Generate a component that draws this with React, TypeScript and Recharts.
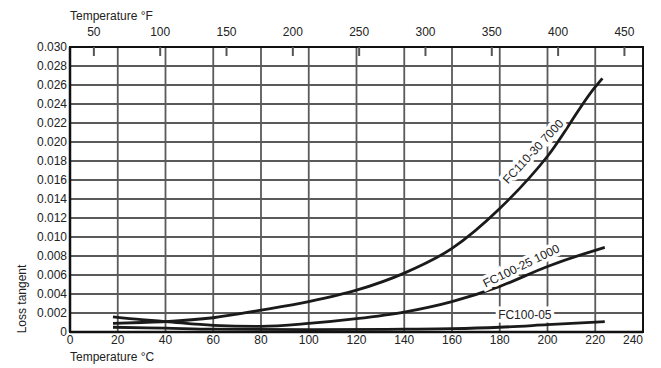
import React from 'react';
import {
  LineChart,
  Line,
  XAxis,
  YAxis,
  CartesianGrid,
  ReferenceArea,
  ReferenceDot,
} from 'recharts';

// degrees C on the bottom axis, degrees F on top
const celsiusTicks = [0, 20, 40, 60, 80, 100, 120, 140, 160, 180, 200, 220, 240];
const fahrenheitTicks = [50, 100, 150, 200, 250, 300, 350, 400, 450];
const lossTicks = [
  0, 0.002, 0.004, 0.006, 0.008, 0.01, 0.012, 0.014, 0.016, 0.018, 0.02, 0.022,
  0.024, 0.026, 0.028, 0.03,
];

const fc11030 = [
  { t: 18, v: 0.0009 },
  { t: 30, v: 0.001 },
  { t: 40, v: 0.0011 },
  { t: 60, v: 0.0015 },
  { t: 80, v: 0.0023 },
  { t: 100, v: 0.0032 },
  { t: 120, v: 0.0044 },
  { t: 140, v: 0.0062 },
  { t: 160, v: 0.0088 },
  { t: 180, v: 0.013 },
  { t: 200, v: 0.0185 },
  { t: 220, v: 0.0258 },
  { t: 223, v: 0.0267 },
];

const fc10025 = [
  { t: 18, v: 0.0016 },
  { t: 30, v: 0.0013 },
  { t: 40, v: 0.0011 },
  { t: 60, v: 0.0007 },
  { t: 80, v: 0.0006 },
  { t: 100, v: 0.0009 },
  { t: 120, v: 0.0014 },
  { t: 140, v: 0.0021 },
  { t: 160, v: 0.0032 },
  { t: 180, v: 0.0048 },
  { t: 200, v: 0.0069 },
  { t: 220, v: 0.0086 },
  { t: 224, v: 0.0089 },
];

const fc10005 = [
  { t: 18, v: 0.0005 },
  { t: 40, v: 0.0004 },
  { t: 60, v: 0.0003 },
  { t: 100, v: 0.00025 },
  { t: 140, v: 0.0003 },
  { t: 160, v: 0.00035 },
  { t: 180, v: 0.0005 },
  { t: 200, v: 0.00077 },
  { t: 224, v: 0.0011 },
];

const curveLabels = [
  { name: 'FC110-30 7000', t: 194, v: 0.019, angle: -47 },
  { name: 'FC100-25 1000', t: 189, v: 0.00695, angle: -26 },
  { name: 'FC100-05', t: 190.5, v: 0.00174, angle: 0 },
];

const FONT = '"Liberation Sans", Arial, sans-serif';
const INK = '#222';

const fmtLoss = (v: number) => (v === 0 ? '0' : v.toFixed(3));
const fToC = (f: number) => ((f - 32) * 5) / 9;

const BottomTick = (props: any) => {
  const { x, y, payload } = props;
  const last = payload.value === 240;
  return (
    <text
      x={x}
      y={y}
      dy={9}
      textAnchor={last ? 'end' : 'middle'}
      fontFamily={FONT}
      fontSize={12}
      fill={INK}
    >
      {payload.value}
    </text>
  );
};

// top °F axis: label above the frame, short mark pointing into the plot
const fahrenheitMark = (f: number) => (props: any) => {
  const vb = props.viewBox || {};
  const cx = vb.x + (vb.width || 0) / 2;
  const cy = vb.y + (vb.height || 0) / 2;
  return (
    <g>
      <line x1={cx} y1={cy} x2={cx} y2={cy + 9} stroke="#555" strokeWidth={2} />
      <text
        x={cx}
        y={cy - 11}
        textAnchor="middle"
        fontFamily={FONT}
        fontSize={12}
        fill={INK}
      >
        {f}
      </text>
    </g>
  );
};

const curveLabel = (name: string, angle: number) => (props: any) => {
  const vb = props.viewBox || {};
  const cx = vb.x + (vb.width || 0) / 2;
  const cy = vb.y + (vb.height || 0) / 2;
  return (
    <text
      x={cx}
      y={cy}
      dy={4}
      textAnchor="middle"
      fontFamily={FONT}
      fontSize={12}
      fill={INK}
      stroke="#fff"
      strokeWidth={7}
      paintOrder="stroke"
      transform={`rotate(${angle} ${cx} ${cy})`}
    >
      {name}
    </text>
  );
};

const App = () => {
  return (
    <div style={{ position: 'absolute', left: 0, top: 0 }}>
      <LineChart
        width={661}
        height={368}
        margin={{ top: 22, right: 18, bottom: 6, left: 30 }}
      >
        <CartesianGrid
          stroke="#5a5a5a"
          strokeWidth={1.8}
          horizontalValues={lossTicks}
          verticalValues={celsiusTicks}
        />
        <XAxis
          type="number"
          dataKey="t"
          domain={[0, 240]}
          ticks={celsiusTicks}
          interval={0}
          allowDataOverflow
          height={30}
          tickSize={0}
          tickMargin={3}
          tick={<BottomTick />}
          axisLine={{ stroke: '#111', strokeWidth: 2.5 }}
          label={{
            content: (p: any) => (
              <text
                x={p.viewBox.x}
                y={p.viewBox.y + p.viewBox.height - 1}
                fontFamily={FONT}
                fontSize={12}
                fill={INK}
              >
                Temperature °C
              </text>
            ),
          }}
        />
        <XAxis
          xAxisId="f"
          orientation="top"
          type="number"
          domain={[32, 464]}
          ticks={fahrenheitTicks}
          allowDataOverflow
          height={25}
          tick={false}
          tickLine={false}
          axisLine={false}
          label={{
            content: (p: any) => (
              <text
                x={p.viewBox.x}
                y={p.viewBox.y - 2}
                fontFamily={FONT}
                fontSize={12}
                fill={INK}
              >
                Temperature °F
              </text>
            ),
          }}
        />
        <YAxis
          type="number"
          domain={[0, 0.03]}
          ticks={lossTicks}
          interval={0}
          allowDataOverflow
          width={40}
          tickSize={0}
          tickMargin={3}
          tickFormatter={fmtLoss}
          tick={{ fontFamily: FONT, fontSize: 12, fill: INK }}
          axisLine={{ stroke: '#111', strokeWidth: 2.5 }}
          label={{
            content: (p: any) => {
              const x = p.viewBox.x - 4;
              const y = p.viewBox.y + p.viewBox.height - 33;
              return (
                <text
                  x={x}
                  y={y}
                  textAnchor="middle"
                  fontFamily={FONT}
                  fontSize={12}
                  fill={INK}
                  transform={`rotate(-90 ${x} ${y})`}
                >
                  Loss tangent
                </text>
              );
            },
          }}
        />
        <ReferenceArea
          x1={0}
          x2={240}
          y1={0}
          y2={0.03}
          fill="none"
          stroke="#111"
          strokeWidth={2}
        />
        {fahrenheitTicks.map((f) => (
          <ReferenceDot
            key={f}
            x={fToC(f)}
            y={0.03}
            r={0}
            fill="none"
            stroke="none"
            label={{ content: fahrenheitMark(f) }}
          />
        ))}
        <Line
          data={fc11030}
          dataKey="v"
          type="monotone"
          stroke="#1a1a1a"
          strokeWidth={2.8}
          dot={false}
          isAnimationActive={false}
        />
        <Line
          data={fc10025}
          dataKey="v"
          type="monotone"
          stroke="#1a1a1a"
          strokeWidth={2.8}
          dot={false}
          isAnimationActive={false}
        />
        <Line
          data={fc10005}
          dataKey="v"
          type="monotone"
          stroke="#1a1a1a"
          strokeWidth={2.8}
          dot={false}
          isAnimationActive={false}
        />
        {curveLabels.map((c) => (
          <ReferenceDot
            key={c.name}
            x={c.t}
            y={c.v}
            r={0}
            fill="none"
            stroke="none"
            label={{ content: curveLabel(c.name, c.angle) }}
          />
        ))}
      </LineChart>
    </div>
  );
};

export default App;
